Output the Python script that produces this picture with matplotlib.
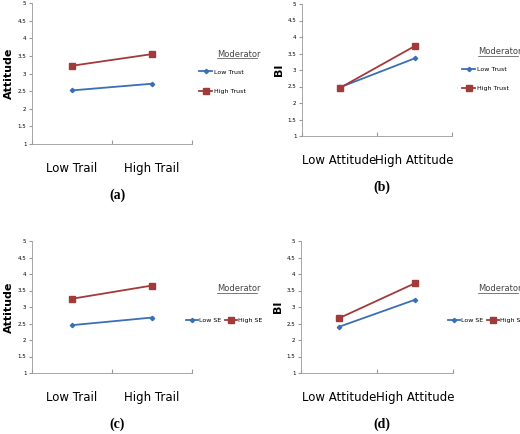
import matplotlib.pyplot as plt
from matplotlib.lines import Line2D

W, H = 520, 434

# panel data
panels = [
    dict(tag="(a)", ylabel="Attitude", cats=["Low Trail", "High Trail"],
         names=["Low Trust", "High Trust"], low=[2.52, 2.71], high=[3.22, 3.55],
         box=(32, 3, 192, 144), stacked=True, mod_x=217, leg_x=193),
    dict(tag="(b)", ylabel="BI", cats=["Low Attitude", "High Attitude"],
         names=["Low Trust", "High Trust"], low=[2.47, 3.35], high=[2.45, 3.72],
         box=(302, 4, 452, 136), stacked=True, mod_x=478, leg_x=456),
    dict(tag="(c)", ylabel="Attitude", cats=["Low Trail", "High Trail"],
         names=["Low SE", "High SE"], low=[2.45, 2.68], high=[3.25, 3.65],
         box=(32, 241, 192, 373), stacked=False, mod_x=217, leg_x=180),
    dict(tag="(d)", ylabel="BI", cats=["Low Attitude", "High Attitude"],
         names=["Low SE", "High SE"], low=[2.40, 3.22], high=[2.66, 3.72],
         box=(301, 241, 453, 373), stacked=False, mod_x=478, leg_x=442),
]

blue = "#3a6fb6"
red = "#a33a3a"

fig = plt.figure(figsize=(W / 100, H / 100), dpi=100)

for p in panels:
    x0, y0, x1, y1 = p["box"]
    ax = fig.add_axes([x0 / W, 1 - y1 / H, (x1 - x0) / W, (y1 - y0) / H])
    xs = [0.5, 1.5]
    l1, = ax.plot(xs, p["low"], color=blue, marker="D", ms=2.2, lw=1.3)
    l2, = ax.plot(xs, p["high"], color=red, marker="s", ms=4, lw=1.3)
    ax.set_xlim(0, 2)
    ax.set_ylim(1, 5)
    ax.set_yticks([1, 1.5, 2, 2.5, 3, 3.5, 4, 4.5, 5])
    ax.set_yticklabels(["1", "1.5", "2", "2.5", "3", "3.5", "4", "4.5", "5"])
    ax.set_xticks([0, 1, 2])
    ax.set_xticklabels([])
    ax.set_xticks(xs, minor=True)
    ax.set_xticklabels(p["cats"], minor=True, fontsize=8.5)
    ax.tick_params(axis="x", which="minor", length=0, pad=13)
    ax.tick_params(axis="x", which="major", length=3, direction="in", color="#999999")
    ax.tick_params(axis="y", labelsize=4, length=2, color="#999999", pad=2)
    for s in ["top", "right"]:
        ax.spines[s].set_visible(False)
    for s in ["left", "bottom"]:
        ax.spines[s].set_color("#999999")
        ax.spines[s].set_linewidth(0.6)
    ax.set_ylabel(p["ylabel"], fontsize=8, fontweight="bold", labelpad=3)

    my = y0 + 0.38 * (y1 - y0)
    fig.text(p["mod_x"] / W, 1 - my / H, "Moderator", fontsize=6, color="#444444")
    fig.add_artist(Line2D([p["mod_x"] / W, (p["mod_x"] + 40) / W],
                          [1 - (my + 1.5) / H, 1 - (my + 1.5) / H],
                          color="#444444", lw=0.5))
    if p["stacked"]:
        fig.legend([l1, l2], p["names"], loc="upper left",
                   bbox_to_anchor=(p["leg_x"] / W, 1 - (y0 + 0.43 * (y1 - y0)) / H),
                   frameon=False, fontsize=4.5, labelspacing=2.2,
                   handlelength=2.2, handletextpad=0.2)
    else:
        fig.legend([l1, l2], p["names"], loc="upper left", ncol=2,
                   bbox_to_anchor=(p["leg_x"] / W, 1 - (y0 + 0.54 * (y1 - y0)) / H),
                   frameon=False, fontsize=4.5, columnspacing=0.5,
                   handlelength=2.0, handletextpad=0.2)
    fig.text((x0 + x1) / 2 / W + 0.01, 1 - (y1 + 55) / H, p["tag"],
             ha="center", fontsize=10, fontweight="bold", family="Liberation Serif")

fig.savefig("out.png", dpi=100)
